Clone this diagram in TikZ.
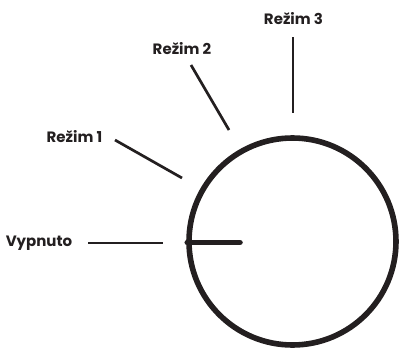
\documentclass[tikz,border=0pt]{standalone}
\usepackage{fontspec}
\setmainfont{Poppins}
\usetikzlibrary{positioning}
\definecolor{ink}{HTML}{231F20}
\tikzset{lbl/.style={inner sep=0pt,font=\bfseries\fontsize{15}{16}\selectfont,text=ink}}
\tikzset{tick/.style={draw=ink,line width=2.7pt}}
\tikzset{dial/.style={draw=ink,circle,line width=5.6pt,minimum size=207pt,inner sep=0pt}}

\begin{document}
\begin{tikzpicture}[x=1pt,y=-1pt]
        \useasboundingbox (0,0) rectangle (399,348);
        \node[dial] (knob) at (292.5, 241.5) {};

        \node[lbl] (off) at (39, 243) {Vypnuto};
        \node[lbl] (m1) at (74.5, 137) {Režim 1};
        \node[lbl] (m2) at (182, 49) {Režim 2};
        \node[lbl] (m3) at (293.5, 19) {Režim 3};

        \coordinate (off a) at (88, 243);
        \coordinate (off b) at (163, 243);
        \coordinate (m1 a) at (115, 140);
        \coordinate (m1 b) at (182, 178);
        \coordinate (m2 a) at (191, 65);
        \coordinate (m2 b) at (229, 130);
        \coordinate (m3 a) at (293, 37);
        \coordinate (m3 b) at (293, 113);
        \coordinate (tip) at (240, 242.5);

        \draw[tick] (off a) -- (off b);
        \draw[tick] (m1 a) -- (m1 b);
        \draw[tick] (m2 a) -- (m2 b);
        \draw[tick] (m3 a) -- (m3 b);

        \draw[draw=ink, line width=5.5pt, line cap=round] (knob.west) ++(1,1) -- (tip);
    \end{tikzpicture}
\end{document}
